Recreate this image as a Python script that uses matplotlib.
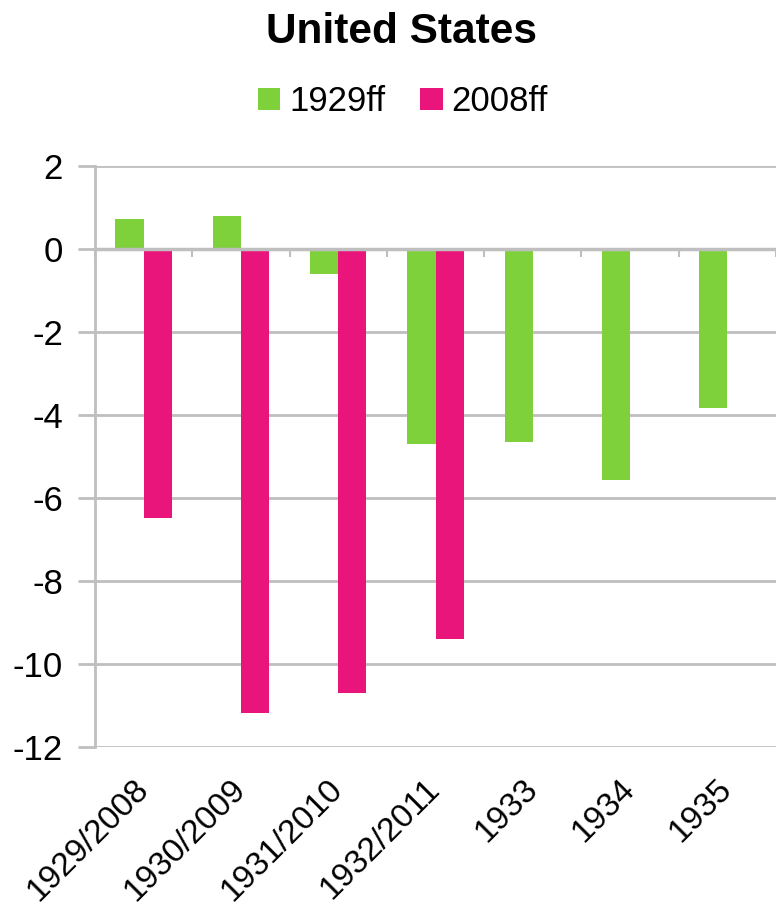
import numpy as np
import matplotlib
matplotlib.use("Agg")
import matplotlib.pyplot as plt
from matplotlib.patches import Patch

plt.rcParams['font.family'] = ['Liberation Sans', 'DejaVu Sans']

categories = ["1929/2008", "1930/2009", "1931/2010", "1932/2011", "1933", "1934", "1935"]
series_1929 = [0.72, 0.80, -0.60, -4.70, -4.65, -5.57, -3.84]
series_2008 = [-6.49, -11.19, -10.69, -9.40, np.nan, np.nan, np.nan]
series_names = ["1929ff", "2008ff"]
yticks = [2, 0, -2, -4, -6, -8, -10, -12]

green = "#7ED13B"
pink = "#EA157B"
grid_gray = "#BFBFBF"

fig = plt.figure(figsize=(7.76, 9.16), dpi=100)
ax = fig.add_axes([95 / 776, 1 - 747 / 916, 1 - 95 / 776, (747 - 166) / 916])

x = np.arange(len(categories))
w = 0.29
ax.bar(x - w / 2, series_1929, width=w, color=green, zorder=3)
ax.bar(x + w / 2, series_2008, width=w, color=pink, zorder=3)

ax.set_ylim(-12, 2)
ax.set_xlim(-0.5, len(categories) - 0.53)
ax.set_yticks(yticks)
ax.set_yticklabels([str(v) for v in yticks])
ax.yaxis.grid(True, color=grid_gray, linewidth=2, zorder=0)
ax.tick_params(axis='y', length=12, width=2, color=grid_gray, labelsize=25, pad=11)

for s in ("top", "right"):
    ax.spines[s].set_visible(False)
ax.spines["left"].set_color(grid_gray)
ax.spines["left"].set_linewidth(2)

# category axis line sits at zero with boundary ticks
ax.spines["bottom"].set_position(("data", 0))
ax.spines["bottom"].set_color(grid_gray)
ax.spines["bottom"].set_linewidth(2.5)
ax.spines["bottom"].set_zorder(4)
ax.set_xticks(np.arange(len(categories) + 1) - 0.5)
ax.set_xticklabels([])
ax.tick_params(axis='x', length=6, width=1.5, color=grid_gray, direction='out')

# category labels along the bottom of the plot
sec = ax.secondary_xaxis('bottom')
sec.spines["bottom"].set_visible(False)
sec.set_xticks(x)
sec.set_xticklabels(categories, rotation=45, ha='right', va='center',
                    rotation_mode='anchor', fontsize=24)
sec.tick_params(axis='x', length=0, pad=27)

fig.text(0.517, 0.965, "United States", ha='center', va='center',
         fontsize=30.5, fontweight='bold')

handles = [Patch(facecolor=green, edgecolor='none'), Patch(facecolor=pink, edgecolor='none')]
fig.legend(handles, series_names, loc='center', bbox_to_anchor=(0.519, 0.889),
           ncol=2, frameon=False, fontsize=25, handlelength=0.65, handleheight=0.6,
           handletextpad=0.25, columnspacing=1.0)

fig.savefig("out.png", dpi=100, facecolor="white")
